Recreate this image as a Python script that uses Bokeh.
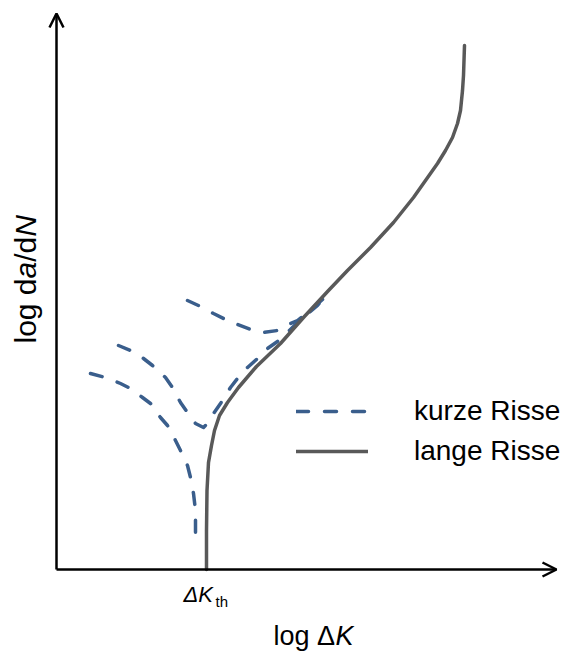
import math

from bokeh.core.properties import value
from bokeh.embed import file_html
from bokeh.models import Arrow, Legend, LegendItem, OpenHead, Range1d
from bokeh.plotting import figure
from bokeh.resources import INLINE

# Schematic crack-growth curves: x = log ΔK, y = log da/dN (arbitrary units,
# origin at the corner of the two axes).
long_x = [150, 150, 150.5, 152, 155, 158, 163, 171, 182, 200, 224, 247, 272,
          291, 314, 337, 357, 381, 389, 396, 401, 404, 406, 407, 408]
long_y = [0, 39, 79, 107, 124, 139, 154, 167, 182, 203, 226, 252, 279,
          299, 322, 347, 372, 406, 419, 432, 446, 459, 479, 494, 524]

short1_x = [131, 144, 157, 167, 181, 194, 207, 221, 232, 241, 251, 266]
short1_y = [269, 263, 256, 251, 245, 240, 237, 239, 245, 249, 257, 270]

short2_x = [62, 74, 87, 96, 109, 116, 124, 131, 139, 147, 152, 157, 164, 174,
            181, 191, 201, 211, 221, 231, 241, 261, 266]
short2_y = [224, 219, 211, 204, 192, 182, 167, 157, 146, 142, 147, 156, 166,
            182, 191, 202, 211, 221, 228, 237, 247, 264, 270]

short3_x = [34, 49, 64, 72, 86, 94, 104, 111, 119, 124, 131, 134, 137, 139, 139]
short3_y = [196, 192, 186, 182, 172, 166, 152, 144, 129, 119, 104, 92, 76, 59, 37]

series_labels = ["kurze Risse", "lange Risse"]

BLUE = "#3A5E8C"
GREY = "#595959"
FONT = "Liberation Sans"

p = figure(width=568, height=651, output_backend="svg", toolbar_location=None,
           x_range=Range1d(-56, 512), y_range=Range1d(-82, 569),
           min_border=0, outline_line_color=None, background_fill_color="white")
p.axis.visible = False
p.grid.visible = False

dash_style = dict(line_color=BLUE, line_width=3.5, line_dash="12 16",
                  line_cap="round", line_join="round")
r_short = p.line(short1_x, short1_y, **dash_style)
p.line(short2_x, short2_y, **dash_style)
p.line(short3_x, short3_y, **dash_style)
r_long = p.line(long_x, long_y, line_color=GREY, line_width=3.5,
                line_cap="round", line_join="round")

# axes with open arrow heads
for xe, ye in [(0, 556), (500, 0)]:
    p.add_layout(Arrow(end=OpenHead(size=14, line_width=2.5, line_color="black"),
                       x_start=0, y_start=0, x_end=xe, y_end=ye,
                       line_width=2.5, line_color="black"))

legend = Legend(items=[LegendItem(label=series_labels[0], renderers=[r_short]),
                       LegendItem(label=series_labels[1], renderers=[r_long])],
                location=(296, 184), orientation="vertical",
                glyph_width=72, glyph_height=32, label_height=32, spacing=8,
                label_standoff=46, padding=0, margin=0,
                label_text_font=FONT, label_text_font_size="28px",
                label_text_color="black",
                border_line_color=None, background_fill_alpha=0)
p.add_layout(legend)


def put(x, y, text, size, style="normal", angle=0.0):
    p.text(x=[x], y=[y], text=[text], text_font=value(FONT),
           text_font_size=size, text_font_style=style, text_align="left",
           text_baseline="middle", angle=angle, text_color="black")


# x axis title
put(217, -66, "log Δ", "27px")
put(279, -66, "K", "27px", "italic")

# y axis title, reading upwards
up = math.pi / 2
put(-31, 226, "log d", "30px", angle=up)
put(-31, 291, "a", "30px", "italic", angle=up)
put(-31, 307.7, "/d", "30px", angle=up)
put(-31, 332.7, "N", "30px", "italic", angle=up)

# threshold marker under the long-crack curve
put(127, -25, "ΔK", "22px", "italic")
put(159, -32, "th", "15px")

open("out.html", "w").write(file_html(p, INLINE))
